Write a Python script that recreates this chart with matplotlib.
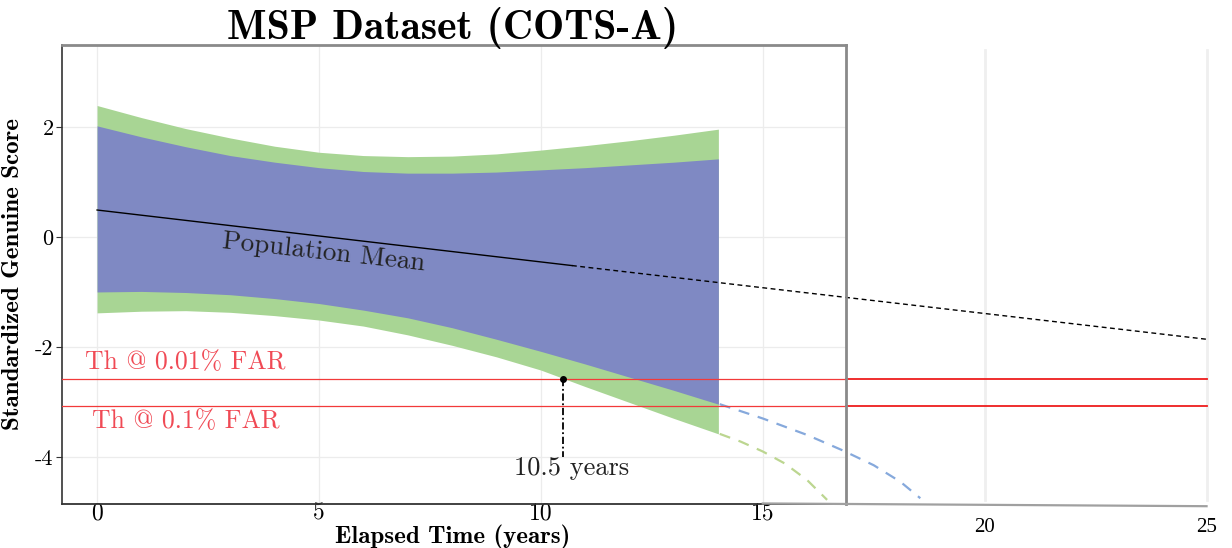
import numpy as np
import matplotlib
matplotlib.use("Agg")
import matplotlib.pyplot as plt

plt.rcParams["font.family"] = ["cmr10", "DejaVu Serif"]
plt.rcParams["axes.unicode_minus"] = False
plt.rcParams["mathtext.fontset"] = "cm"

# data
years = [0, 1, 2, 3, 4, 5, 6, 7, 8, 9, 10, 11, 12, 13, 14]
green_hi = [2.39, 2.17, 1.97, 1.80, 1.65, 1.54, 1.48, 1.46, 1.47, 1.51, 1.58, 1.66, 1.75, 1.85, 1.96]
blue_hi = [2.02, 1.82, 1.64, 1.48, 1.36, 1.26, 1.19, 1.16, 1.16, 1.18, 1.22, 1.26, 1.31, 1.36, 1.42]
blue_lo = [-1.00, -0.99, -1.01, -1.05, -1.12, -1.21, -1.33, -1.47, -1.65, -1.86, -2.08, -2.31, -2.55, -2.79, -3.04]
green_lo = [-1.38, -1.35, -1.34, -1.37, -1.43, -1.51, -1.62, -1.78, -1.97, -2.18, -2.42, -2.72, -3.01, -3.30, -3.58]

mean_solid_x = [0, 10.7]
mean_solid_y = [0.49, -0.52]
mean_dash_x = [10.7, 25]
mean_dash_y = [-0.52, -1.86]

blue_ext_x = [14.03, 15.0, 16.0, 16.8, 17.5, 18.1, 18.55]
blue_ext_y = [-3.04, -3.30, -3.60, -3.88, -4.15, -4.45, -4.75]
green_ext_x = [14.03, 14.5, 15.0, 15.5, 16.0, 16.45]
green_ext_y = [-3.58, -3.72, -3.90, -4.12, -4.42, -4.78]

far_levels = [-2.59, -3.07]
far_labels = ["Th @ 0.01% FAR", "Th @ 0.1% FAR"]
cross_year = 10.5

x_ticks = [0, 5, 10, 15]
x_ticks_ext = [20, 25]
y_ticks = [-4, -2, 0, 2]
y_ticklabels = ["-4", "-2", "0", "2"]

BLUE = "#7f89c3"
GREEN = "#a8d594"
RED = "#f23a3a"
XMIN, XMAX = -0.79, 25.1
YMIN, YMAX = -4.855, 3.49
BOX_R = 16.87

fig = plt.figure(figsize=(12.32, 5.48), dpi=100)
ax = fig.add_axes([62 / 1232, 1 - 504 / 548, (1211 - 62) / 1232, (504 - 45) / 548])
ax.set_xlim(XMIN, XMAX)
ax.set_ylim(YMIN, YMAX)
for s in ["top", "right", "bottom"]:
    ax.spines[s].set_visible(False)
ax.spines["left"].set_color("#333333")
ax.spines["left"].set_linewidth(1.2)

# grid inside the box
for gx in x_ticks:
    ax.plot([gx, gx], [YMIN, YMAX], color="#ececec", lw=0.9, zorder=0)
for gy in y_ticks:
    ax.plot([XMIN, BOX_R], [gy, gy], color="#ececec", lw=0.9, zorder=0)
for gx in x_ticks_ext:
    ax.plot([gx, gx], [-4.78, 3.4], color="#efefef", lw=2, zorder=0)

# bands
ax.fill_between(years, green_lo, green_hi, color=GREEN, lw=0, zorder=1)
ax.fill_between(years, blue_lo, blue_hi, color=BLUE, lw=0, zorder=2)

# mean line
ax.plot(mean_solid_x, mean_solid_y, color="black", lw=1.0, zorder=4)
ax.plot(mean_dash_x, mean_dash_y, color="black", lw=1.0, ls=(0, (3.5, 2.5)), zorder=4)
ax.text(5.1, -0.28, "Population Mean", fontsize=19.5, rotation=-6.3,
        ha="center", va="center", color="#222222", zorder=5)

# extrapolations
ax.plot(blue_ext_x, blue_ext_y, color="#86a9dc", lw=1.6, ls=(0, (5, 4)), zorder=3)
ax.plot(green_ext_x, green_ext_y, color="#bcd690", lw=1.6, ls=(0, (5, 4)), zorder=3)

# thresholds
for lvl in far_levels:
    ax.plot([XMIN, BOX_R], [lvl, lvl], color=RED, lw=0.9, zorder=3)
    ax.plot([BOX_R, 25], [lvl, lvl], color="#ee1c1c", lw=1.3, zorder=3)
ax.text(-0.27, far_levels[0] + 0.31, far_labels[0], fontsize=18.5, color="#f04a55",
        ha="left", va="center")
ax.text(-0.12, far_levels[1] - 0.28, far_labels[1], fontsize=18.5, color="#f04a55",
        ha="left", va="center")

# crossing marker
ax.plot([cross_year, cross_year], [far_levels[0], -4.0], color="black", lw=1.3,
        ls=(0, (4, 1.5, 1, 1.5)), zorder=5)
ax.plot(cross_year, far_levels[0], "o", color="black", ms=4, zorder=6)
ax.text(cross_year + 0.2, -4.2, "10.5 years", fontsize=19, ha="center", va="center",
        color="#222222")

# box around main panel
ax.plot([XMIN, BOX_R], [YMIN, YMIN], color="#333333", lw=1.3, clip_on=False, zorder=7)
ax.plot([XMIN, BOX_R], [YMAX, YMAX], color="#8a8a8a", lw=2, clip_on=False, zorder=7)
ax.plot([BOX_R, BOX_R], [YMIN, YMAX], color="#8a8a8a", lw=2, clip_on=False, zorder=7)
ax.plot([15, 25], [YMIN + 0.01, YMIN - 0.04], color="#a0a0a0", lw=1.6, clip_on=False, zorder=7)

# ticks
ax.set_yticks(y_ticks)
ax.set_yticklabels(y_ticklabels, fontsize=16)
ax.tick_params(axis="y", length=4, color="#333333", pad=2)
ax.set_xticks(x_ticks)
ax.set_xticklabels([str(t) for t in x_ticks], fontsize=17)
ax.tick_params(axis="x", length=0, pad=-1)
for t in x_ticks_ext:
    ax.text(t, YMIN - 0.42, str(t), fontsize=15, ha="center", va="center",
            family=["Liberation Serif", "DejaVu Serif"])

fig.text(453 / 1232, 1 - 543 / 548, "Elapsed Time (years)", fontsize=18,
         family=["cmb10", "DejaVu Serif"], ha="center", va="baseline")
ax.set_ylabel("Standardized Genuine Score", fontsize=18, family=["cmb10", "DejaVu Serif"])
ax.yaxis.set_label_coords(-0.033, 0.5)
fig.text(453 / 1232, 1 - 28 / 548, "MSP Dataset (COTS-A)", fontsize=30,
         family=["cmb10", "DejaVu Serif"], ha="center", va="center")

fig.savefig("out.png", dpi=100)
